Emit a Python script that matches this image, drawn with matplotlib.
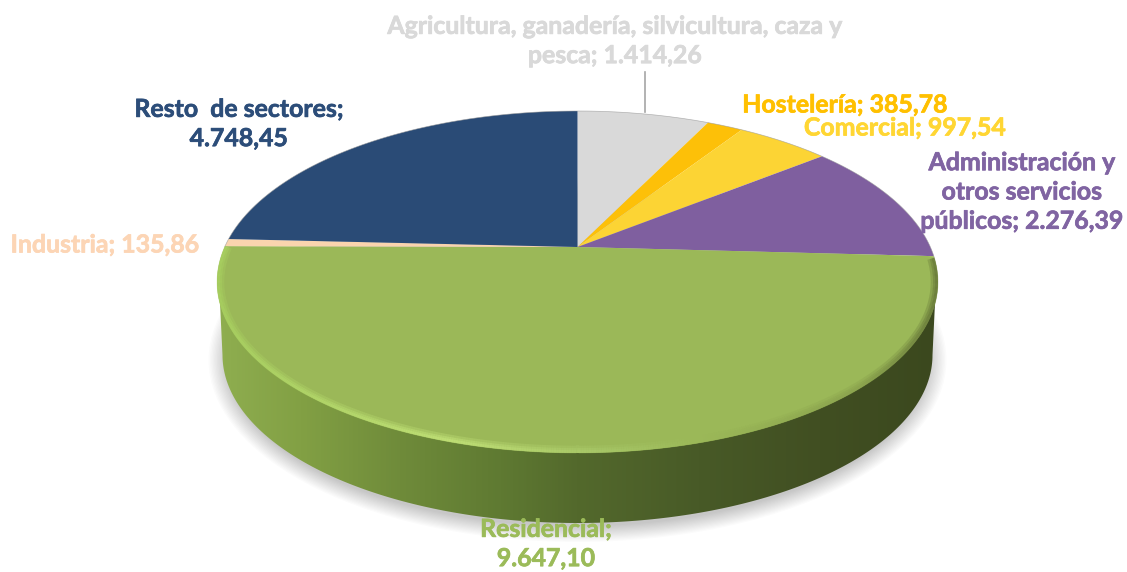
import numpy as np
import matplotlib
matplotlib.use('Agg')
import matplotlib.pyplot as plt
import matplotlib.patheffects as pe
from matplotlib.collections import LineCollection
from matplotlib.colors import LinearSegmentedColormap, to_rgb
from matplotlib.patches import Ellipse, Polygon
from matplotlib.path import Path
from matplotlib.transforms import Affine2D, Transform

plt.rcParams['font.family'] = ['Lato', 'DejaVu Sans']

# Datos
sectores = ['Agricultura', 'Hostelería', 'Comercial', 'Administración',
            'Residencial', 'Industria', 'Resto']
valores = [1414.26, 385.78, 997.54, 2276.39, 9647.10, 135.86, 4748.45]
colores = ['#d9d9d9', '#fdc008', '#fcd434', '#7f5f9f', '#9bb858', '#fad4ae', '#2a4b76']
etiquetas = ['Agricultura, ganadería, silvicultura, caza y\npesca; 1.414,26',
             'Hostelería; 385,78',
             'Comercial; 997,54',
             'Administración y\notros servicios\npúblicos; 2.276,39',
             'Residencial;\n9.647,10',
             'Industria; 135,86',
             'Resto  de sectores;\n4.748,45']
colores_texto = ['#d9d9d9', '#ffc000', '#ffd633', '#8064a2', '#9bbb59', '#fcd5b5', '#2c4d79']
pos_texto = [(615, 41), (845, 105), (905, 128), (1022, 192), (546, 544), (105, 245), (239, 124)]

# Geometria del disco en pixeles
CX, CY = 577.5, 282
RX, RY = 360.5, 171
APEX_Y = 247
CX2, CY2, RX2, RY2 = 577.5, 355, 355, 168


class Perspectiva(Transform):
    # lleva el circulo unidad a la elipse, con el centro en el vertice del pie
    input_dims = 2
    output_dims = 2

    def __init__(self):
        super().__init__()
        self.c = CY - APEX_Y
        self.k = self.c / RY
        self.a = RX * np.sqrt(1 - self.k ** 2)

    def transform_non_affine(self, xy):
        xy = np.asarray(xy, dtype=float)
        w = 1 + self.k * xy[:, 1]
        return np.column_stack([CX + self.a * xy[:, 0] / w,
                                CY - (RY * xy[:, 1] + self.c) / w])

    def transform_path_non_affine(self, path):
        big = path.transformed(Affine2D().scale(2000))
        poly = big.to_polygons(closed_only=False)[0] / 2000
        return Path(self.transform_non_affine(poly))


fig = plt.figure(figsize=(11.27, 5.72), dpi=100)
ax = fig.add_axes([0, 0, 1, 1])

# Sombra
for i in range(14):
    ax.add_patch(Ellipse((CX2, CY2 + 5), 2 * (RX2 + 14 - i * 1.4), 2 * (RY2 + 14 - i * 1.2),
                         fc='black', ec='none', alpha=0.014, zorder=1))

# Lateral con degradado
t = np.linspace(0, np.pi, 200)
borde = np.column_stack([CX2 + RX2 * np.cos(t), CY2 + RY2 * np.sin(t)])
lateral = np.vstack([[[CX + RX - 2, CY], [CX2 + RX2, CY2]], borde, [[CX - RX + 2, CY]]])
pared = Polygon(lateral, closed=True, fc='none', ec='none', zorder=2)
ax.add_patch(pared)
stops_x = [217, 300, 400, 500, 577, 700, 820, 938]
stops_c = ['#8fae50', '#82a044', '#6f8b3a', '#5f7a32', '#53692c', '#485a27', '#414f22', '#3b481e']
cmap = LinearSegmentedColormap.from_list(
    'lado', [((x - 217) / (938 - 217), c) for x, c in zip(stops_x, stops_c)])
img = ax.imshow(np.linspace(0, 1, 512)[None, :], cmap=cmap, extent=(217, 938, 530, 280),
                aspect='auto', zorder=2)
img.set_clip_path(pared)

# Cara superior
persp = Perspectiva()
wedges, _ = ax.pie(valores, colors=colores, startangle=90, counterclock=False, radius=1,
                   wedgeprops={'linewidth': 0})
for w in wedges:
    w.set_transform(persp + ax.transData)
    w.set_zorder(3)

# Brillo del borde delantero, varias pasadas para difuminar
t = np.radians(np.linspace(-8, 192, 500))
rim_x = [217, 450, 600, 700, 860, 938]
rim_c = np.array([to_rgb(c) for c in ['#a8d060', '#c2e278', '#a8c868', '#9bb858', '#8ba34e', '#68793a']])
for inset, lw, al in [(3.5, 5.5, 0.35), (2.5, 3.5, 0.5), (1.5, 2.0, 0.7)]:
    bx = CX + (RX - inset) * np.cos(t)
    by = CY + (RY - inset) * np.sin(t)
    pts = np.column_stack([bx, by]).reshape(-1, 1, 2)
    segs = np.concatenate([pts[:-1], pts[1:]], axis=1)
    xm = segs[:, :, 0].mean(axis=1)
    rgb = np.column_stack([np.interp(xm, rim_x, rim_c[:, j]) for j in range(3)] + [np.full(len(xm), al)])
    ax.add_collection(LineCollection(segs, colors=rgb, linewidths=lw, zorder=4, capstyle='butt'))

# Linea gris del arco superior
t = np.radians(np.linspace(192, 352, 300))
ax.plot(CX + RX * np.cos(t), CY + RY * np.sin(t), color='#9a9a9a', lw=0.5, alpha=0.7, zorder=4)

# Guia de Agricultura
ax.plot([644.5, 644.5], [72, 112], color='#a6a6a6', lw=1.2, zorder=4)

ax.set_aspect('auto')
ax.set_xlim(0, 1127)
ax.set_ylim(572, 0)
ax.axis('off')

for txt, col, (x, y) in zip(etiquetas, colores_texto, pos_texto):
    ax.text(x, y, txt, color=col, fontsize=17.9, fontweight='bold', ha='center', va='center',
            linespacing=1.33, zorder=6,
            path_effects=[pe.withStroke(linewidth=0.5, foreground=col)])

fig.savefig('out.png', dpi=100)
